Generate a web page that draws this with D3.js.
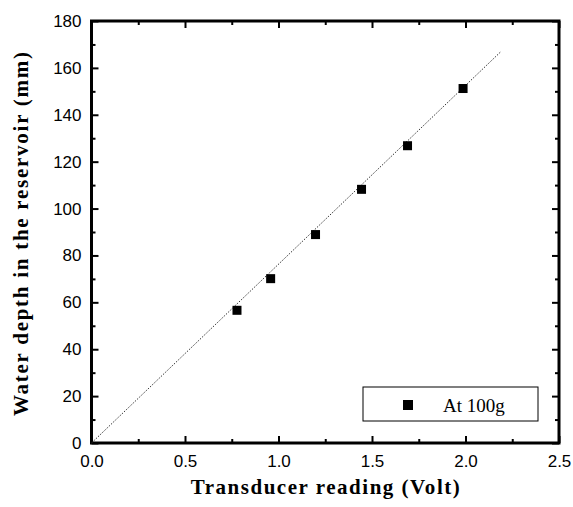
<!DOCTYPE html>
<html>
<head>
<meta charset="utf-8">
<script src="https://cdn.jsdelivr.net/npm/d3@7"></script>
<style>
  body { margin: 0; background: #fff; }
  svg { display: block; }
</style>
</head>
<body>
<svg width="573" height="507"></svg>
<script>
// measured points (Volt, mm)
const volts = [0.778, 0.958, 1.198, 1.444, 1.69, 1.987];
const depths = [56.6, 70.1, 88.9, 108.2, 126.8, 151.2];
// fitted line end points
const fitX = [0, 2.19];
const fitY = [0, 167];
const xTicks = [0, 0.5, 1.0, 1.5, 2.0, 2.5];
const yTicks = [0, 20, 40, 60, 80, 100, 120, 140, 160, 180];
const legendLabel = "At 100g";

const svg = d3.select("svg");
const margin = { top: 21, right: 14, bottom: 64, left: 91.5 };
const width = +svg.attr("width");
const height = +svg.attr("height");
const innerWidth = width - margin.left - margin.right;
const innerHeight = height - margin.top - margin.bottom;

const xScale = d3.scaleLinear().domain([0, 2.5]).range([0, innerWidth]);
const yScale = d3.scaleLinear().domain([0, 180]).range([innerHeight, 0]);

const g = svg.append("g").attr("transform", `translate(${margin.left}, ${margin.top})`);

const tickFont = "'Liberation Sans', Arial, sans-serif";
const titleFont = "'Liberation Serif', 'Times New Roman', serif";

// minor ticks (inward)
const xMinor = d3.range(0.25, 2.5, 0.5);
const yMinor = d3.range(10, 180, 20);

function styleAxis(sel) {
  sel.select(".domain").remove();
  sel.selectAll("line").attr("stroke", "#000").attr("stroke-width", 2);
  sel.selectAll("text").attr("font-family", tickFont).attr("font-size", 17).attr("fill", "#000");
}
function noLabels(sel) {
  styleAxis(sel);
  sel.selectAll("text").remove();
}

// bottom
g.append("g")
  .attr("transform", `translate(0, ${innerHeight})`)
  .call(d3.axisBottom(xScale).tickValues(xTicks).tickFormat(d3.format(".1f")).tickSizeInner(-7).tickSizeOuter(0).tickPadding(12))
  .call(styleAxis);
g.append("g")
  .attr("transform", `translate(0, ${innerHeight})`)
  .call(d3.axisBottom(xScale).tickValues(xMinor).tickSizeInner(-4).tickSizeOuter(0))
  .call(noLabels);
// top
g.append("g")
  .call(d3.axisTop(xScale).tickValues(xTicks).tickSizeInner(-7).tickSizeOuter(0))
  .call(noLabels);
g.append("g")
  .call(d3.axisTop(xScale).tickValues(xMinor).tickSizeInner(-4).tickSizeOuter(0))
  .call(noLabels);
// left
g.append("g")
  .call(d3.axisLeft(yScale).tickValues(yTicks).tickFormat(d3.format("d")).tickSizeInner(-7).tickSizeOuter(0).tickPadding(10))
  .call(styleAxis);
g.append("g")
  .call(d3.axisLeft(yScale).tickValues(yMinor).tickSizeInner(-4).tickSizeOuter(0))
  .call(noLabels);
// right
g.append("g")
  .attr("transform", `translate(${innerWidth}, 0)`)
  .call(d3.axisRight(yScale).tickValues(yTicks).tickSizeInner(-7).tickSizeOuter(0))
  .call(noLabels);
g.append("g")
  .attr("transform", `translate(${innerWidth}, 0)`)
  .call(d3.axisRight(yScale).tickValues(yMinor).tickSizeInner(-4).tickSizeOuter(0))
  .call(noLabels);

// frame
g.append("rect")
  .attr("width", innerWidth)
  .attr("height", innerHeight)
  .attr("fill", "none")
  .attr("stroke", "#000")
  .attr("stroke-width", 3);

// fit line
const fitData = fitX.map((x, i) => ({ x: x, y: fitY[i] }));
g.append("path")
  .datum(fitData)
  .attr("d", d3.line().x((d) => xScale(d.x)).y((d) => yScale(d.y)))
  .attr("fill", "none")
  .attr("stroke", "#333")
  .attr("stroke-width", 1)
  .attr("stroke-dasharray", "1.5,1.5");

// points
const points = volts.map((v, i) => ({ x: v, y: depths[i] }));
g.selectAll(".pt")
  .data(points)
  .enter()
  .append("rect")
  .attr("class", "pt")
  .attr("x", (d) => xScale(d.x) - 4.5)
  .attr("y", (d) => yScale(d.y) - 4.5)
  .attr("width", 9)
  .attr("height", 9)
  .attr("fill", "#000");

// legend
const legend = svg.append("g").attr("transform", "translate(363, 387)");
legend.append("rect")
  .attr("width", 175)
  .attr("height", 34)
  .attr("fill", "#fff")
  .attr("stroke", "#000")
  .attr("stroke-width", 1);
legend.append("rect")
  .attr("x", 40)
  .attr("y", 13)
  .attr("width", 10)
  .attr("height", 10)
  .attr("fill", "#000");
legend.append("text")
  .attr("x", 80)
  .attr("y", 25)
  .attr("font-family", titleFont)
  .attr("font-size", 19)
  .attr("fill", "#000")
  .text(legendLabel);

// axis titles
svg.append("text")
  .attr("x", margin.left + innerWidth / 2)
  .attr("y", 494)
  .attr("text-anchor", "middle")
  .attr("font-family", titleFont)
  .attr("font-weight", "bold")
  .attr("font-size", 21)
  .attr("textLength", 269)
  .attr("lengthAdjust", "spacing")
  .text("Transducer reading (Volt)");

svg.append("text")
  .attr("transform", `translate(28, 234) rotate(-90)`)
  .attr("text-anchor", "middle")
  .attr("font-family", titleFont)
  .attr("font-weight", "bold")
  .attr("font-size", 21)
  .attr("textLength", 364)
  .attr("lengthAdjust", "spacing")
  .text("Water depth in the reservoir (mm)");
</script>
</body>
</html>
